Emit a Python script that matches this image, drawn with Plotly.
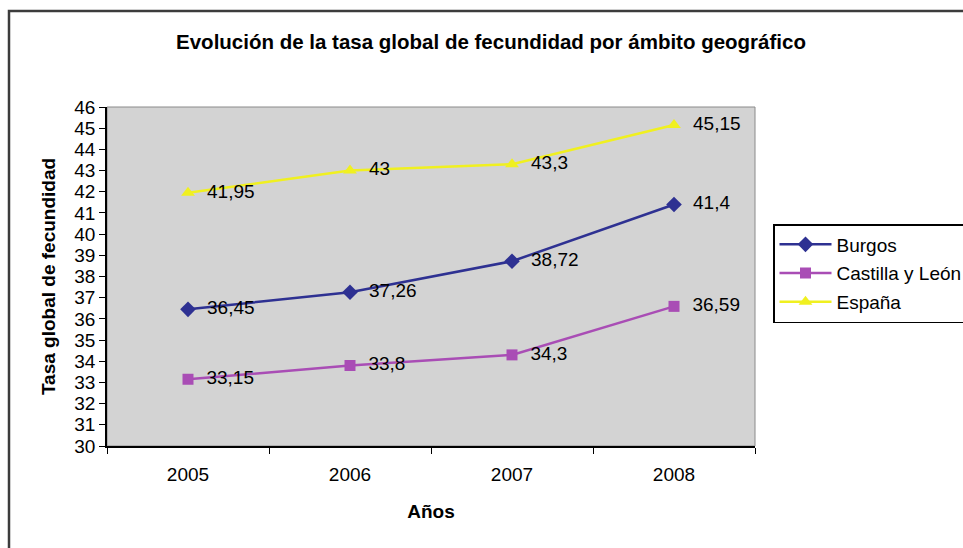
import plotly.graph_objects as go

years = ["2005", "2006", "2007", "2008"]
burgos = [36.45, 37.26, 38.72, 41.4]
castilla = [33.15, 33.8, 34.3, 36.59]
espana = [41.95, 43, 43.3, 45.15]
series_names = ["Burgos", "Castilla y León", "España"]
y_ticks = list(range(30, 47))

def fmt(v):
    s = ("%g" % v).replace(".", ",")
    return "  " + s

FONT = "Liberation Sans, Arial, sans-serif"
FS = 19

fig = go.Figure()
specs = [
    (series_names[0], burgos, "#2E3192", "diamond", 12),
    (series_names[1], castilla, "#A94DB5", "square", 11),
    (series_names[2], espana, "#F0F020", "triangle-up", 12),
]
for i, (name, vals, col, sym, sz) in enumerate(specs):
    fig.add_trace(go.Scatter(
        x=years, y=vals, name=name, legendgroup="g%d" % i,
        mode="lines+markers+text",
        line=dict(color=col, width=2.5),
        marker=dict(symbol=sym, size=sz, color=col),
        text=[fmt(v) for v in vals],
        textposition="middle right",
        textfont=dict(family=FONT, size=FS, color="black"),
        cliponaxis=False,
    ))

L, R, T, B = 107, 755, 107, 446
W, H = 963, 548

def px_x(x):
    return (x - L) / (R - L)

def px_y(y):
    return (B - y) / (B - T)

fig.update_layout(
    width=W, height=H,
    margin=dict(l=L, r=W - R, t=T, b=H - B, autoexpand=False),
    paper_bgcolor="white",
    plot_bgcolor="#D3D3D3",
    title=dict(
        text="<b>Evolución de la tasa global de fecundidad por ámbito geográfico</b>",
        x=491 / W, xanchor="center", y=1 - 42 / H, yanchor="middle",
        font=dict(family=FONT, size=20.5, color="black"),
    ),
    showlegend=True,
    legend=dict(
        x=px_x(773), xanchor="left", y=px_y(224), yanchor="top",
        bgcolor="white", bordercolor="black", borderwidth=1.5,
        font=dict(family=FONT, size=FS, color="black"),
        tracegroupgap=1, itemwidth=52,
    ),
    font=dict(family=FONT, color="black"),
)

fig.update_xaxes(
    type="category", range=[-0.5, 3.5], automargin=False,
    showline=True, linecolor="black", linewidth=1.5,
    ticks="outside", ticklen=6, tickcolor="black", tickson="boundaries",
    ticklabelstandoff=10,
    showgrid=False, zeroline=False,
    tickfont=dict(family=FONT, size=FS, color="black"),
    title=dict(text="<b>Años</b>", font=dict(family=FONT, size=FS, color="black"), standoff=21),
)
fig.update_yaxes(
    range=[30, 46], automargin=False,
    tickmode="array", tickvals=y_ticks, ticktext=[str(v) for v in y_ticks],
    showline=True, linecolor="black", linewidth=1.5,
    ticks="outside", ticklen=6, tickcolor="black",
    showgrid=False, zeroline=False,
    tickfont=dict(family=FONT, size=FS, color="black"),
    title=dict(text="<b>Tasa global de fecundidad</b>", font=dict(family=FONT, size=FS, color="black"), standoff=14),
)

# plot-area border (gray on top/right)
fig.add_shape(type="rect", xref="paper", yref="paper", x0=0, x1=1, y0=0, y1=1,
              line=dict(color="#8A8A8A", width=1), layer="below")
# outer chart frame
fig.add_shape(type="rect", xref="paper", yref="paper",
              x0=px_x(9), x1=px_x(975), y0=px_y(560), y1=px_y(11),
              line=dict(color="#3C3C3C", width=2.5), layer="above")

fig.write_html("out.html", config={"displayModeBar": False},
               post_script="document.body.style.margin='0';")
